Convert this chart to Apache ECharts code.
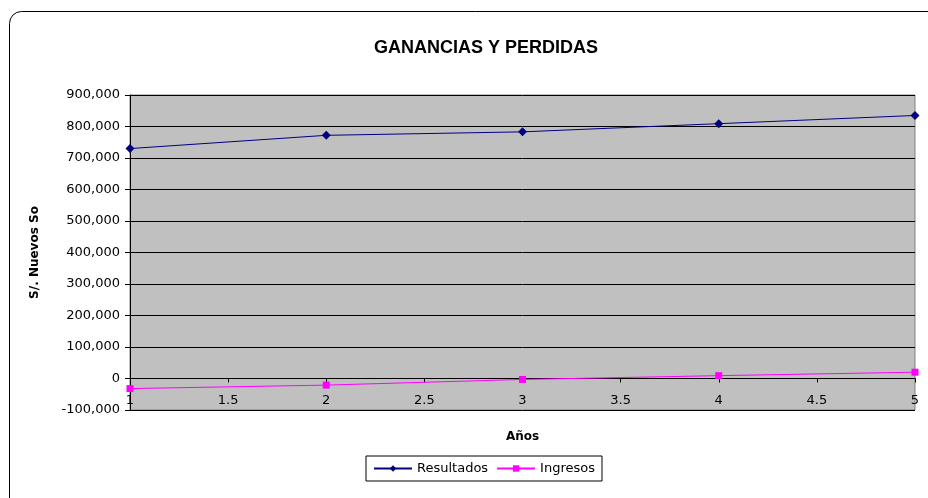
<!DOCTYPE html>
<html>
<head>
<meta charset="utf-8">
<script src="https://cdn.jsdelivr.net/npm/echarts@6/dist/echarts.min.js"></script>
<style>html,body{margin:0;padding:0;background:#fff}#c{width:928px;height:498px}</style>
</head>
<body>
<div id="c"></div>
<script>
const years = [1, 2, 3, 4, 5];
const resultados = [730000, 772000, 783000, 809000, 835000];
const ingresos = [-32000, -21000, -3000, 9000, 20000];
const seriesNames = ['Resultados', 'Ingresos'];

const chart = echarts.init(document.getElementById('c'));
const font = 'Liberation Sans, Arial, sans-serif';
const wide = 'DejaVu Sans, sans-serif';
const option = {
  animation: false,
  backgroundColor: '#fff',
  textStyle: { fontFamily: wide },
  graphic: [{
    type: 'rect', z: -10,
    shape: { x: 9.5, y: 11.5, width: 1000, height: 600, r: 12 },
    style: { fill: 'none', stroke: '#000', lineWidth: 1 }
  }],
  title: {
    text: 'GANANCIAS Y PERDIDAS', left: 481, top: 34, textAlign: 'center',
    textStyle: { fontSize: 18, fontWeight: 'bold', color: '#000', fontFamily: font }
  },
  grid: {
    left: 130, right: 13, top: 95, bottom: 88, show: true,
    backgroundColor: '#C0C0C0', borderColor: '#808080', borderWidth: 1
  },
  legend: {
    left: 366, top: 456,
    data: seriesNames,
    borderColor: '#000', borderWidth: 1, padding: [6, 7, 6, 7],
    itemWidth: 38, itemHeight: 8, itemGap: 8,
    textStyle: { fontSize: 13, color: '#000', fontFamily: wide }
  },
  xAxis: {
    type: 'value', min: 1, max: 5, interval: 0.5,
    position: 'bottom', offset: 0,
    name: 'Años', nameLocation: 'middle', nameGap: 52,
    nameTextStyle: { fontSize: 12, fontWeight: 'bold', color: '#000', fontFamily: wide },
    axisLine: { onZero: true, lineStyle: { color: '#000', width: 1 } },
    axisTick: { show: true, length: 4, lineStyle: { color: '#000' } },
    axisLabel: { fontSize: 13, color: '#000', margin: 16, fontFamily: wide },
    splitLine: { show: false }
  },
  yAxis: {
    type: 'value', min: -100000, max: 900000, interval: 100000,
    name: 'S/. Nuevos So', nameLocation: 'middle', nameGap: 89,
    nameTextStyle: { fontSize: 12, fontWeight: 'bold', color: '#000', fontFamily: wide },
    axisLine: { show: true, onZero: false, lineStyle: { color: '#000', width: 1 } },
    axisTick: { show: true, length: 5, lineStyle: { color: '#000' } },
    axisLabel: {
      fontSize: 13, color: '#000', margin: 10, fontFamily: wide,
      formatter: v => v.toLocaleString('en-US')
    },
    splitLine: { show: true, lineStyle: { color: '#000', width: 1 } }
  },
  series: [
    {
      name: seriesNames[0], type: 'line',
      data: years.map((x, i) => [x, resultados[i]]),
      symbol: 'diamond', symbolSize: 9,
      lineStyle: { color: '#000080', width: 1 },
      itemStyle: { color: '#000080' }
    },
    {
      name: seriesNames[1], type: 'line',
      data: years.map((x, i) => [x, ingresos[i]]),
      symbol: 'rect', symbolSize: 7,
      lineStyle: { color: '#FF00FF', width: 1 },
      itemStyle: { color: '#FF00FF' }
    }
  ]
};
chart.setOption(option);
// place the x axis on the y = 0 line, using the library's own scale
const yZero = chart.convertToPixel({ yAxisIndex: 0 }, 0);
const yMin = chart.convertToPixel({ yAxisIndex: 0 }, option.yAxis.min);
if (Math.abs(yMin - yZero) > 1) {
  chart.setOption({ xAxis: { offset: yZero - yMin } });
}
</script>
</body>
</html>
